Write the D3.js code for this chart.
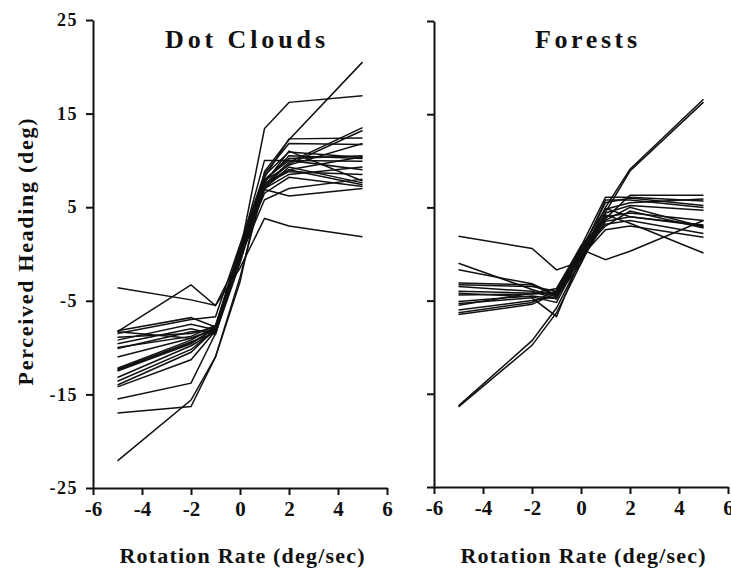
<!DOCTYPE html>
<html>
<head>
<meta charset="utf-8">
<script src="https://cdn.jsdelivr.net/npm/d3@7"></script>
<style>
  body { margin: 0; background: #fff; }
  text { font-family: "Liberation Serif", "DejaVu Serif", serif; font-weight: bold; fill: #111; }
</style>
</head>
<body>
<div id="my_dataviz"></div>
<script>
// rotation rates where headings were measured
var rates = [-5, -2, -1, 0, 1, 2, 5];

// one row per observer, perceived heading (deg) at each rate
var dotClouds = [
  [-22.1, -15.6, -11.0, -3.0, 8.8, 12.2, 20.5],
  [-17.0, -16.3, -11.0, -2.5, 7.5, 9.0, 10.4],
  [-15.5, -13.8, -8.5, -1.0, 7.8, 9.5, 11.8],
  [-14.2, -11.3, -8.2, -0.5, 7.0, 8.5, 9.3],
  [-14.0, -10.5, -8.0, -0.3, 7.4, 9.8, 13.5],
  [-13.6, -10.2, -8.1, 0.2, 8.0, 10.0, 9.0],
  [-13.2, -9.8, -8.3, -0.2, 7.2, 9.0, 7.4],
  [-12.5, -9.6, -7.9, 0.8, 7.7, 10.5, 10.2],
  [-12.4, -9.5, -8.0, 0.0, 7.6, 11.0, 7.8],
  [-12.3, -9.4, -8.4, 0.4, 7.9, 10.2, 10.5],
  [-12.2, -9.2, -7.8, 0.1, 6.5, 8.2, 7.2],
  [-11.0, -9.0, -8.0, -0.4, 5.8, 7.0, 8.0],
  [-10.1, -8.3, -8.2, 0.3, 8.2, 12.3, 12.4],
  [-10.0, -8.8, -7.6, 0.6, 8.4, 10.9, 10.3],
  [-9.6, -8.0, -8.6, 0.0, 7.0, 9.3, 7.6],
  [-9.2, -7.5, -8.1, 0.5, 10.0, 10.0, 9.9],
  [-8.9, -8.5, -7.8, -0.1, 7.5, 8.8, 8.5],
  [-8.5, -7.0, -6.7, 1.0, 8.6, 11.8, 11.7],
  [-8.3, -3.3, -5.5, -0.3, 7.3, 9.6, 13.2],
  [-8.3, -9.0, -8.0, 0.2, 13.4, 16.2, 16.9],
  [-8.2, -6.8, -7.8, -0.6, 6.9, 6.2, 7.0],
  [-3.6, -4.9, -5.5, -1.5, 3.8, 3.0, 1.85]
];

var forests = [
  [-16.4, -9.8, -6.3, -1.0, 4.5, 8.9, 16.3],
  [-16.3, -9.3, -5.8, -0.6, 5.0, 9.1, 16.6],
  [1.9, 0.6, -1.7, -0.8, 3.5, 4.0, 3.0],
  [-1.0, -3.8, -4.6, -1.0, 4.2, 3.3, 0.1],
  [-1.7, -3.2, -4.4, 0.0, 4.8, 5.5, 5.9],
  [-3.1, -3.3, -4.5, -0.5, 3.8, 6.3, 6.3],
  [-3.3, -3.5, -4.0, 0.3, 5.5, 6.0, 5.2],
  [-3.5, -4.0, -4.8, 0.2, 3.0, 4.6, 2.8],
  [-4.0, -4.2, -3.7, 0.8, 6.1, 6.1, 5.7],
  [-4.2, -4.6, -5.2, -0.2, 4.4, 5.2, 4.7],
  [-4.4, -4.3, -4.1, 0.5, -0.6, 0.3, 3.6],
  [-5.1, -4.5, -4.8, 0.4, 3.2, 3.6, 2.2],
  [-5.3, -4.7, -6.7, -0.3, 2.6, 3.0, 1.8],
  [-5.5, -4.2, -4.3, 0.6, 4.9, 4.0, 3.1],
  [-6.0, -5.0, -4.6, 0.0, 5.8, 5.8, 5.0],
  [-6.3, -5.2, -3.9, 0.9, 3.6, 5.0, 2.9],
  [-6.5, -5.4, -4.2, -0.1, 4.0, 4.4, 3.6]
];

var xTicks = [-6, -4, -2, 0, 2, 4, 6];
var yTicks = [-25, -15, -5, 5, 15, 25];

var svg = d3.select("#my_dataviz")
  .append("svg")
    .attr("width", 731)
    .attr("height", 569);

// plain hyphen for negatives, like the original figure
var plain = function(d) { return String(d); };

function drawPanel(data, title, titleLen, x0, x1, y0, y1, labels) {
  var x = d3.scaleLinear().domain([-6, 6]).range([x0, x1]);
  var y = d3.scaleLinear().domain([-25, 25]).range([y0, y1]);

  var yAxis = d3.axisLeft(y).tickValues(yTicks).tickSize(7).tickSizeOuter(0).tickPadding(8)
    .tickFormat(labels ? plain : "");
  var gy = svg.append("g")
    .attr("transform", "translate(" + x0 + ",0)")
    .call(yAxis);
  gy.selectAll("text").style("font-size", "18px").attr("letter-spacing", "1.5px");

  var gx = svg.append("g")
    .attr("transform", "translate(0," + y0 + ")")
    .call(d3.axisBottom(x).tickValues(xTicks).tickSize(7).tickSizeOuter(0).tickPadding(6).tickFormat(plain));
  gx.selectAll("text").style("font-size", "21px");

  svg.selectAll(".domain, .tick line")
    .attr("stroke", "#111")
    .attr("stroke-width", 2);

  var line = d3.line()
    .x(function(d, i) { return x(rates[i]); })
    .y(function(d) { return y(d); });

  svg.append("g")
    .selectAll("path")
    .data(data)
    .enter()
    .append("path")
      .attr("d", line)
      .attr("fill", "none")
      .attr("stroke", "#111")
      .attr("stroke-width", 1.5);

  svg.append("text")
    .attr("x", (x0 + x1) / 2 + 5)
    .attr("y", 48)
    .attr("text-anchor", "middle")
    .attr("textLength", titleLen)
    .attr("lengthAdjust", "spacing")
    .style("font-size", "26px")
    .text(title);

  svg.append("text")
    .attr("x", (x0 + x1) / 2 + 2)
    .attr("y", 563)
    .attr("text-anchor", "middle")
    .attr("textLength", 245)
    .attr("lengthAdjust", "spacing")
    .style("font-size", "22px")
    .text("Rotation Rate (deg/sec)");
}

drawPanel(dotClouds, "Dot  Clouds", 160, 93, 387, 488, 20, true);
drawPanel(forests, "Forests", 102, 434, 728, 487, 21, false);

svg.append("text")
  .attr("transform", "translate(33,252) rotate(-90)")
  .attr("text-anchor", "middle")
  .attr("textLength", 267)
  .attr("lengthAdjust", "spacing")
  .style("font-size", "22px")
  .text("Perceived Heading (deg)");
</script>
</body>
</html>
